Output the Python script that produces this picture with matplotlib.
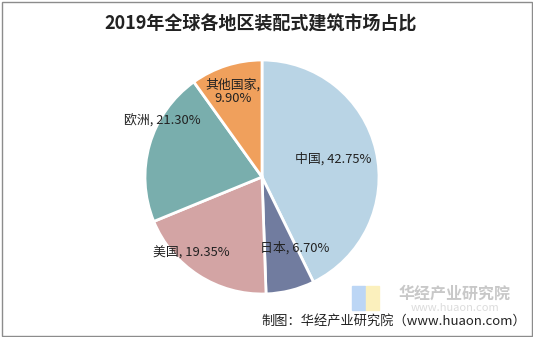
import matplotlib.pyplot as plt
from matplotlib.patches import Rectangle

plt.rcParams['font.family'] = ['Noto Sans CJK SC', 'DejaVu Sans']

regions = ["中国", "日本", "美国", "欧洲", "其他国家"]
shares = [42.75, 6.70, 19.35, 21.30, 9.90]
colors = ["#b9d4e5", "#717c9f", "#d3a4a4", "#79aead", "#f0a05c"]

# label anchor points in pie units (radius = 1)
label_xy = [(0.61, 0.15), (0.28, -0.61), (-0.60, -0.65), (-0.85, 0.48), (-0.25, 0.73)]

fig = plt.figure(figsize=(5.33, 3.37), dpi=100)

# pie centre at (262, 177) px, radius 117 px
r_px = 117
ax = fig.add_axes([(262 - r_px) / 533, (337 - 177 - r_px) / 337,
                   2 * r_px / 533, 2 * r_px / 337])
ax.pie(shares, colors=colors, startangle=90, counterclock=False,
       wedgeprops=dict(edgecolor="white", linewidth=2))
ax.set_xlim(-1, 1)
ax.set_ylim(-1, 1)
ax.set_aspect('auto')

for name, val, (x, y) in zip(regions, shares, label_xy):
    if name == "其他国家":
        txt = f"{name},\n{val:.2f}%"
    else:
        txt = f"{name}, {val:.2f}%"
    ax.text(x, y, txt, ha="center", va="center", fontsize=9.3,
            color="#222222", linespacing=1.1)

fig.text(261 / 533, 1 - 24 / 337, "2019年全球各地区装配式建筑市场占比",
         ha="center", va="center", fontsize=13, fontweight="bold", color="#222222")

# watermark
fig.patches.append(Rectangle((352 / 533, 1 - 310 / 337), 13 / 533, 24 / 337,
                             transform=fig.transFigure, color="#bcd6f5", zorder=0))
fig.patches.append(Rectangle((366 / 533, 1 - 310 / 337), 13 / 533, 24 / 337,
                             transform=fig.transFigure, color="#fbf0bd", zorder=0))
fig.text(455 / 533, 1 - 294 / 337, "华经产业研究院", ha="center", va="center",
         fontsize=11.5, fontweight="bold", color="#c8c8c8")
fig.text(455 / 533, 1 - 308 / 337, "www.huaon.com", ha="center", va="center",
         fontsize=8, color="#dcdcdc")

fig.text(526 / 533, 1 - 321 / 337, "制图：华经产业研究院（www.huaon.com）",
         ha="right", va="center", fontsize=9.5, color="#222222")

fig.patches.append(Rectangle((1.5 / 533, 1.5 / 337), 530 / 533, 334 / 337,
                             transform=fig.transFigure, fill=False,
                             edgecolor="#8c8c8c", linewidth=1))

fig.savefig("out.png", dpi=100)
